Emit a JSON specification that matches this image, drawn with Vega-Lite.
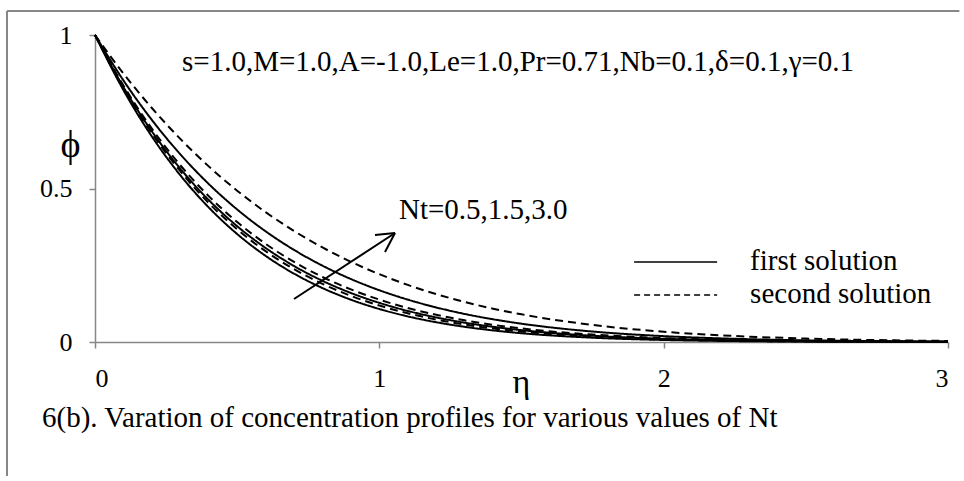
{
  "$schema": "https://vega.github.io/schema/vega-lite/v6.json",
  "width": 853,
  "height": 307,
  "autosize": {"type": "none"},
  "padding": {"left": 95, "top": 35, "right": 16, "bottom": 134},
  "background": "white",
  "config": {
    "view": {"stroke": null},
    "font": "Liberation Serif",
    "axis": {
      "grid": false,
      "domainColor": "#878787",
      "domainWidth": 1.5,
      "tickColor": "#878787",
      "tickWidth": 1.5,
      "tickSize": 6,
      "labelFont": "Liberation Serif",
      "labelFontSize": 26,
      "labelColor": "black",
      "titleFont": "Liberation Serif",
      "titleFontWeight": "normal",
      "titleColor": "black"
    }
  },
  "data": {"values": [{}]},
  "datasets": {
    "profiles": [
      {"eta": 0, "phi": 1, "Nt": "3.0", "sol": "second solution"},
      {"eta": 0.1, "phi": 0.8747, "Nt": "3.0", "sol": "second solution"},
      {"eta": 0.2, "phi": 0.7622, "Nt": "3.0", "sol": "second solution"},
      {"eta": 0.3, "phi": 0.6616, "Nt": "3.0", "sol": "second solution"},
      {"eta": 0.4, "phi": 0.5721, "Nt": "3.0", "sol": "second solution"},
      {"eta": 0.5, "phi": 0.4929, "Nt": "3.0", "sol": "second solution"},
      {"eta": 0.6, "phi": 0.423, "Nt": "3.0", "sol": "second solution"},
      {"eta": 0.7, "phi": 0.3616, "Nt": "3.0", "sol": "second solution"},
      {"eta": 0.8, "phi": 0.308, "Nt": "3.0", "sol": "second solution"},
      {"eta": 0.9, "phi": 0.2613, "Nt": "3.0", "sol": "second solution"},
      {"eta": 1.0, "phi": 0.2209, "Nt": "3.0", "sol": "second solution"},
      {"eta": 1.1, "phi": 0.186, "Nt": "3.0", "sol": "second solution"},
      {"eta": 1.2, "phi": 0.156, "Nt": "3.0", "sol": "second solution"},
      {"eta": 1.3, "phi": 0.1304, "Nt": "3.0", "sol": "second solution"},
      {"eta": 1.4, "phi": 0.1086, "Nt": "3.0", "sol": "second solution"},
      {"eta": 1.5, "phi": 0.0901, "Nt": "3.0", "sol": "second solution"},
      {"eta": 1.75, "phi": 0.0555, "Nt": "3.0", "sol": "second solution"},
      {"eta": 2.0, "phi": 0.0334, "Nt": "3.0", "sol": "second solution"},
      {"eta": 2.25, "phi": 0.0196, "Nt": "3.0", "sol": "second solution"},
      {"eta": 2.5, "phi": 0.0113, "Nt": "3.0", "sol": "second solution"},
      {"eta": 2.75, "phi": 0.0063, "Nt": "3.0", "sol": "second solution"},
      {"eta": 3.0, "phi": 0.0034, "Nt": "3.0", "sol": "second solution"},

      {"eta": 0, "phi": 1, "Nt": "3.0", "sol": "first solution"},
      {"eta": 0.1, "phi": 0.8521, "Nt": "3.0", "sol": "first solution"},
      {"eta": 0.2, "phi": 0.7233, "Nt": "3.0", "sol": "first solution"},
      {"eta": 0.3, "phi": 0.6114, "Nt": "3.0", "sol": "first solution"},
      {"eta": 0.4, "phi": 0.5148, "Nt": "3.0", "sol": "first solution"},
      {"eta": 0.5, "phi": 0.4317, "Nt": "3.0", "sol": "first solution"},
      {"eta": 0.6, "phi": 0.3606, "Nt": "3.0", "sol": "first solution"},
      {"eta": 0.7, "phi": 0.3, "Nt": "3.0", "sol": "first solution"},
      {"eta": 0.8, "phi": 0.2486, "Nt": "3.0", "sol": "first solution"},
      {"eta": 0.9, "phi": 0.2051, "Nt": "3.0", "sol": "first solution"},
      {"eta": 1.0, "phi": 0.1686, "Nt": "3.0", "sol": "first solution"},
      {"eta": 1.1, "phi": 0.1381, "Nt": "3.0", "sol": "first solution"},
      {"eta": 1.2, "phi": 0.1126, "Nt": "3.0", "sol": "first solution"},
      {"eta": 1.3, "phi": 0.0914, "Nt": "3.0", "sol": "first solution"},
      {"eta": 1.4, "phi": 0.074, "Nt": "3.0", "sol": "first solution"},
      {"eta": 1.5, "phi": 0.0596, "Nt": "3.0", "sol": "first solution"},
      {"eta": 1.75, "phi": 0.0341, "Nt": "3.0", "sol": "first solution"},
      {"eta": 2.0, "phi": 0.0191, "Nt": "3.0", "sol": "first solution"},
      {"eta": 2.25, "phi": 0.0104, "Nt": "3.0", "sol": "first solution"},
      {"eta": 2.5, "phi": 0.0055, "Nt": "3.0", "sol": "first solution"},
      {"eta": 2.75, "phi": 0.0029, "Nt": "3.0", "sol": "first solution"},
      {"eta": 3.0, "phi": 0.0014, "Nt": "3.0", "sol": "first solution"},

      {"eta": 0, "phi": 1, "Nt": "1.5", "sol": "second solution"},
      {"eta": 0.1, "phi": 0.8353, "Nt": "1.5", "sol": "second solution"},
      {"eta": 0.2, "phi": 0.6949, "Nt": "1.5", "sol": "second solution"},
      {"eta": 0.3, "phi": 0.5758, "Nt": "1.5", "sol": "second solution"},
      {"eta": 0.4, "phi": 0.4752, "Nt": "1.5", "sol": "second solution"},
      {"eta": 0.5, "phi": 0.3906, "Nt": "1.5", "sol": "second solution"},
      {"eta": 0.6, "phi": 0.3198, "Nt": "1.5", "sol": "second solution"},
      {"eta": 0.7, "phi": 0.2608, "Nt": "1.5", "sol": "second solution"},
      {"eta": 0.8, "phi": 0.2118, "Nt": "1.5", "sol": "second solution"},
      {"eta": 0.9, "phi": 0.1714, "Nt": "1.5", "sol": "second solution"},
      {"eta": 1.0, "phi": 0.1381, "Nt": "1.5", "sol": "second solution"},
      {"eta": 1.1, "phi": 0.1108, "Nt": "1.5", "sol": "second solution"},
      {"eta": 1.2, "phi": 0.0886, "Nt": "1.5", "sol": "second solution"},
      {"eta": 1.3, "phi": 0.0705, "Nt": "1.5", "sol": "second solution"},
      {"eta": 1.4, "phi": 0.0559, "Nt": "1.5", "sol": "second solution"},
      {"eta": 1.5, "phi": 0.0442, "Nt": "1.5", "sol": "second solution"},
      {"eta": 1.75, "phi": 0.0241, "Nt": "1.5", "sol": "second solution"},
      {"eta": 2.0, "phi": 0.0128, "Nt": "1.5", "sol": "second solution"},
      {"eta": 2.25, "phi": 0.0066, "Nt": "1.5", "sol": "second solution"},
      {"eta": 2.5, "phi": 0.0033, "Nt": "1.5", "sol": "second solution"},
      {"eta": 2.75, "phi": 0.0016, "Nt": "1.5", "sol": "second solution"},
      {"eta": 3.0, "phi": 0.0008, "Nt": "1.5", "sol": "second solution"},

      {"eta": 0, "phi": 1, "Nt": "1.5", "sol": "first solution"},
      {"eta": 0.1, "phi": 0.8301, "Nt": "1.5", "sol": "first solution"},
      {"eta": 0.2, "phi": 0.6861, "Nt": "1.5", "sol": "first solution"},
      {"eta": 0.3, "phi": 0.5645, "Nt": "1.5", "sol": "first solution"},
      {"eta": 0.4, "phi": 0.4625, "Nt": "1.5", "sol": "first solution"},
      {"eta": 0.5, "phi": 0.3772, "Nt": "1.5", "sol": "first solution"},
      {"eta": 0.6, "phi": 0.3063, "Nt": "1.5", "sol": "first solution"},
      {"eta": 0.7, "phi": 0.2476, "Nt": "1.5", "sol": "first solution"},
      {"eta": 0.8, "phi": 0.1993, "Nt": "1.5", "sol": "first solution"},
      {"eta": 0.9, "phi": 0.1597, "Nt": "1.5", "sol": "first solution"},
      {"eta": 1.0, "phi": 0.1275, "Nt": "1.5", "sol": "first solution"},
      {"eta": 1.1, "phi": 0.1012, "Nt": "1.5", "sol": "first solution"},
      {"eta": 1.2, "phi": 0.0801, "Nt": "1.5", "sol": "first solution"},
      {"eta": 1.3, "phi": 0.063, "Nt": "1.5", "sol": "first solution"},
      {"eta": 1.4, "phi": 0.0494, "Nt": "1.5", "sol": "first solution"},
      {"eta": 1.5, "phi": 0.0386, "Nt": "1.5", "sol": "first solution"},
      {"eta": 1.75, "phi": 0.0204, "Nt": "1.5", "sol": "first solution"},
      {"eta": 2.0, "phi": 0.0105, "Nt": "1.5", "sol": "first solution"},
      {"eta": 2.25, "phi": 0.0052, "Nt": "1.5", "sol": "first solution"},
      {"eta": 2.5, "phi": 0.0025, "Nt": "1.5", "sol": "first solution"},
      {"eta": 2.75, "phi": 0.0012, "Nt": "1.5", "sol": "first solution"},
      {"eta": 3.0, "phi": 0.0006, "Nt": "1.5", "sol": "first solution"},

      {"eta": 0, "phi": 1, "Nt": "0.5", "sol": "second solution"},
      {"eta": 0.1, "phi": 0.8265, "Nt": "0.5", "sol": "second solution"},
      {"eta": 0.2, "phi": 0.6798, "Nt": "0.5", "sol": "second solution"},
      {"eta": 0.3, "phi": 0.5563, "Nt": "0.5", "sol": "second solution"},
      {"eta": 0.4, "phi": 0.4529, "Nt": "0.5", "sol": "second solution"},
      {"eta": 0.5, "phi": 0.367, "Nt": "0.5", "sol": "second solution"},
      {"eta": 0.6, "phi": 0.2958, "Nt": "0.5", "sol": "second solution"},
      {"eta": 0.7, "phi": 0.2373, "Nt": "0.5", "sol": "second solution"},
      {"eta": 0.8, "phi": 0.1894, "Nt": "0.5", "sol": "second solution"},
      {"eta": 0.9, "phi": 0.1504, "Nt": "0.5", "sol": "second solution"},
      {"eta": 1.0, "phi": 0.1188, "Nt": "0.5", "sol": "second solution"},
      {"eta": 1.1, "phi": 0.0934, "Nt": "0.5", "sol": "second solution"},
      {"eta": 1.2, "phi": 0.0731, "Nt": "0.5", "sol": "second solution"},
      {"eta": 1.3, "phi": 0.0569, "Nt": "0.5", "sol": "second solution"},
      {"eta": 1.4, "phi": 0.0441, "Nt": "0.5", "sol": "second solution"},
      {"eta": 1.5, "phi": 0.034, "Nt": "0.5", "sol": "second solution"},
      {"eta": 1.75, "phi": 0.0173, "Nt": "0.5", "sol": "second solution"},
      {"eta": 2.0, "phi": 0.0086, "Nt": "0.5", "sol": "second solution"},
      {"eta": 2.25, "phi": 0.0041, "Nt": "0.5", "sol": "second solution"},
      {"eta": 2.5, "phi": 0.0019, "Nt": "0.5", "sol": "second solution"},
      {"eta": 2.75, "phi": 0.0009, "Nt": "0.5", "sol": "second solution"},
      {"eta": 3.0, "phi": 0.0004, "Nt": "0.5", "sol": "second solution"},

      {"eta": 0, "phi": 1, "Nt": "0.5", "sol": "first solution"},
      {"eta": 0.1, "phi": 0.8205, "Nt": "0.5", "sol": "first solution"},
      {"eta": 0.2, "phi": 0.6695, "Nt": "0.5", "sol": "first solution"},
      {"eta": 0.3, "phi": 0.5432, "Nt": "0.5", "sol": "first solution"},
      {"eta": 0.4, "phi": 0.4383, "Nt": "0.5", "sol": "first solution"},
      {"eta": 0.5, "phi": 0.3517, "Nt": "0.5", "sol": "first solution"},
      {"eta": 0.6, "phi": 0.2806, "Nt": "0.5", "sol": "first solution"},
      {"eta": 0.7, "phi": 0.2226, "Nt": "0.5", "sol": "first solution"},
      {"eta": 0.8, "phi": 0.1757, "Nt": "0.5", "sol": "first solution"},
      {"eta": 0.9, "phi": 0.1378, "Nt": "0.5", "sol": "first solution"},
      {"eta": 1.0, "phi": 0.1075, "Nt": "0.5", "sol": "first solution"},
      {"eta": 1.1, "phi": 0.0834, "Nt": "0.5", "sol": "first solution"},
      {"eta": 1.2, "phi": 0.0644, "Nt": "0.5", "sol": "first solution"},
      {"eta": 1.3, "phi": 0.0494, "Nt": "0.5", "sol": "first solution"},
      {"eta": 1.4, "phi": 0.0377, "Nt": "0.5", "sol": "first solution"},
      {"eta": 1.5, "phi": 0.0286, "Nt": "0.5", "sol": "first solution"},
      {"eta": 1.75, "phi": 0.014, "Nt": "0.5", "sol": "first solution"},
      {"eta": 2.0, "phi": 0.0066, "Nt": "0.5", "sol": "first solution"},
      {"eta": 2.25, "phi": 0.003, "Nt": "0.5", "sol": "first solution"},
      {"eta": 2.5, "phi": 0.0013, "Nt": "0.5", "sol": "first solution"},
      {"eta": 2.75, "phi": 0.0006, "Nt": "0.5", "sol": "first solution"},
      {"eta": 3.0, "phi": 0.0002, "Nt": "0.5", "sol": "first solution"}
    ]
  },
  "layer": [
    {
      "data": {"name": "profiles"},
      "mark": {"type": "line", "color": "black", "strokeWidth": 2, "interpolate": "monotone"},
      "encoding": {
        "x": {
          "field": "eta",
          "type": "quantitative",
          "title": "η",
          "scale": {"domain": [0, 3], "nice": false, "zero": false},
          "axis": {
            "orient": "bottom",
            "values": [0, 1, 2, 3],
            "format": "d",
            "labelFont": "Liberation Serif",
            "labelFontSize": 26,
            "labelPadding": 17,
            "titleFont": "Liberation Serif",
            "titleFontSize": 34,
            "titleX": 426,
            "titleY": 40,
            "titleBaseline": "middle"
          }
        },
        "y": {
          "field": "phi",
          "type": "quantitative",
          "title": "ϕ",
          "scale": {"domain": [0, 1], "nice": false},
          "axis": {
            "orient": "left",
            "values": [0, 0.5, 1],
            "format": "~g",
            "labelFont": "Liberation Serif",
            "labelFontSize": 26,
            "labelPadding": 17,
            "titleFont": "Liberation Serif",
            "titleFontSize": 38,
            "titleAngle": 0,
            "titleX": -25,
            "titleY": 110,
            "titleBaseline": "middle"
          }
        },
        "detail": {"field": "Nt"},
        "strokeDash": {
          "field": "sol",
          "type": "nominal",
          "scale": {"domain": ["first solution", "second solution"], "range": [[1, 0], [8, 5]]},
          "legend": null
        }
      }
    },
    {
      "mark": {"type": "rule", "color": "#878787", "strokeWidth": 2},
      "encoding": {
        "x": {"datum": -0.3095, "type": "quantitative"},
        "y": {"datum": 1.0782, "type": "quantitative"},
        "y2": {"datum": -0.44}
      }
    },
    {
      "mark": {"type": "rule", "color": "#878787", "strokeWidth": 2},
      "encoding": {
        "x": {"datum": -0.3095, "type": "quantitative"},
        "x2": {"datum": 3.04},
        "y": {"datum": 1.0782, "type": "quantitative"}
      }
    },
    {
      "mark": {"type": "rule", "color": "black", "strokeWidth": 2},
      "encoding": {
        "x": {"datum": 0.6999, "type": "quantitative"},
        "y": {"datum": 0.1401, "type": "quantitative"},
        "x2": {"datum": 1.0551},
        "y2": {"datum": 0.355}
      }
    },
    {
      "mark": {"type": "rule", "color": "black", "strokeWidth": 2},
      "encoding": {
        "x": {"datum": 0.9848, "type": "quantitative"},
        "y": {"datum": 0.3485, "type": "quantitative"},
        "x2": {"datum": 1.0551},
        "y2": {"datum": 0.355}
      }
    },
    {
      "mark": {"type": "rule", "color": "black", "strokeWidth": 2},
      "encoding": {
        "x": {"datum": 1.0199, "type": "quantitative"},
        "y": {"datum": 0.2932, "type": "quantitative"},
        "x2": {"datum": 1.0551},
        "y2": {"datum": 0.355}
      }
    },
    {
      "mark": {"type": "rule", "color": "black", "strokeWidth": 1.5},
      "encoding": {
        "x": {"datum": 1.896, "type": "quantitative"},
        "x2": {"datum": 2.188},
        "y": {"datum": 0.2606, "type": "quantitative"}
      }
    },
    {
      "mark": {"type": "rule", "color": "black", "strokeWidth": 1.5, "strokeDash": [6, 4]},
      "encoding": {
        "x": {"datum": 1.896, "type": "quantitative"},
        "x2": {"datum": 2.188},
        "y": {"datum": 0.153, "type": "quantitative"}
      }
    },
    {
      "mark": {"type": "text", "font": "Liberation Serif", "fontSize": 29, "align": "left", "baseline": "alphabetic", "color": "black"},
      "encoding": {
        "x": {"datum": 2.304, "type": "quantitative"},
        "y": {"datum": 0.2345, "type": "quantitative"},
        "text": {"value": "first solution"}
      }
    },
    {
      "mark": {"type": "text", "font": "Liberation Serif", "fontSize": 29, "align": "left", "baseline": "alphabetic", "color": "black"},
      "encoding": {
        "x": {"datum": 2.304, "type": "quantitative"},
        "y": {"datum": 0.127, "type": "quantitative"},
        "text": {"value": "second solution"}
      }
    },
    {
      "mark": {"type": "text", "font": "Liberation Serif", "fontSize": 29, "align": "left", "baseline": "alphabetic", "color": "black"},
      "encoding": {
        "x": {"datum": 1.069, "type": "quantitative"},
        "y": {"datum": 0.4007, "type": "quantitative"},
        "text": {"value": "Nt=0.5,1.5,3.0"}
      }
    },
    {
      "mark": {"type": "text", "font": "Liberation Serif", "fontSize": 29, "align": "left", "baseline": "alphabetic", "color": "black"},
      "encoding": {
        "x": {"datum": 0.306, "type": "quantitative"},
        "y": {"datum": 0.883, "type": "quantitative"},
        "text": {"value": "s=1.0,M=1.0,A=-1.0,Le=1.0,Pr=0.71,Nb=0.1,δ=0.1,γ=0.1"}
      }
    },
    {
      "mark": {"type": "text", "font": "Liberation Serif", "fontSize": 29, "align": "left", "baseline": "alphabetic", "color": "black"},
      "encoding": {
        "x": {"datum": -0.1864, "type": "quantitative"},
        "y": {"datum": -0.2769, "type": "quantitative"},
        "text": {"value": "6(b). Varation of concentration profiles for various values of Nt"}
      }
    }
  ]
}
